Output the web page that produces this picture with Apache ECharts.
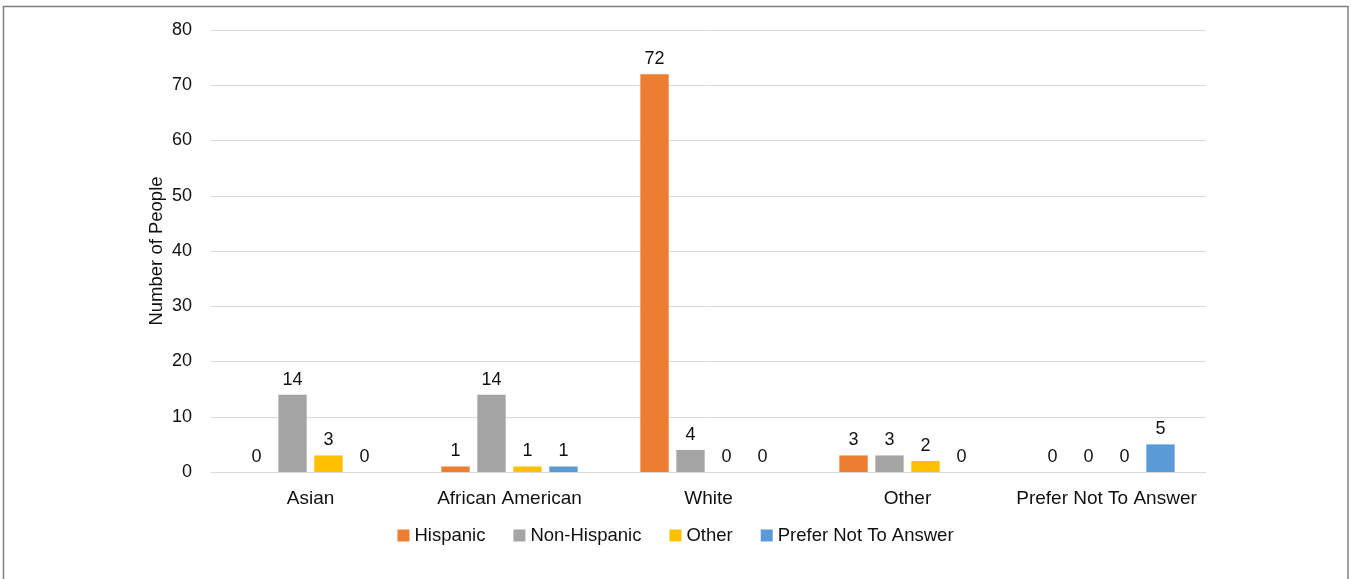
<!DOCTYPE html>
<html>
<head>
<meta charset="utf-8">
<script src="https://cdn.jsdelivr.net/npm/echarts@6/dist/echarts.min.js"></script>
<style>
html,body{margin:0;padding:0;background:#fff;}
#chart{width:1351px;height:579px;}
</style>
</head>
<body>
<div id="chart"></div>
<script>
const categories = ['Asian', 'African American', 'White', 'Other', 'Prefer Not To Answer'];
const seriesNames = ['Hispanic', 'Non-Hispanic', 'Other', 'Prefer Not To Answer'];
const hispanic = [0, 1, 72, 3, 0];
const nonHispanic = [14, 14, 4, 3, 0];
const otherEth = [3, 1, 0, 2, 0];
const preferNot = [0, 1, 0, 0, 5];
const yTicks = [0, 10, 20, 30, 40, 50, 60, 70, 80];
const colors = ['#ED7D31', '#A5A5A5', '#FFC000', '#5B9BD5'];

const FONT = '"Liberation Sans", Arial, sans-serif';
const TXT = '#111';
const values = [hispanic, nonHispanic, otherEth, preferNot];

const chart = echarts.init(document.getElementById('chart'));
chart.setOption({
  animation: false,
  textStyle: { fontFamily: FONT },
  graphic: [{
    type: 'rect',
    shape: { x: 3.5, y: 6.5, width: 1344.5, height: 620 },
    style: { fill: 'none', stroke: '#7f7f7f', lineWidth: 1.5 },
    silent: true
  }],
  grid: { left: 211, right: 145, top: 30, bottom: 107 },
  legend: {
    data: seriesNames,
    bottom: 29,
    left: 'center',
    itemWidth: 12,
    itemHeight: 12,
    itemGap: 28,
    icon: 'rect',
    textStyle: { fontFamily: FONT, fontSize: 18.5, color: TXT }
  },
  xAxis: {
    type: 'category',
    data: categories,
    axisLine: { show: true, lineStyle: { color: '#d9d9d9', width: 1 } },
    axisTick: { show: false },
    axisLabel: { interval: 0, fontFamily: FONT, fontSize: 19, color: TXT, margin: 17 }
  },
  yAxis: {
    type: 'value',
    min: yTicks[0],
    max: yTicks[yTicks.length - 1],
    interval: 10,
    name: 'Number of People',
    nameLocation: 'middle',
    nameGap: 45,
    nameMoveOverlap: false,
    nameRotate: 90,
    nameTextStyle: { fontFamily: FONT, fontSize: 18.5, color: TXT },
    axisLine: { show: false },
    axisTick: { show: false },
    splitLine: { lineStyle: { color: '#d9d9d9', width: 1 } },
    axisLabel: { fontFamily: FONT, fontSize: 18, color: TXT, margin: 19 }
  },
  series: seriesNames.map((n, i) => ({
    name: n,
    type: 'bar',
    data: values[i],
    barGap: '27%',
    barCategoryGap: '31.5%',
    itemStyle: { color: colors[i] },
    label: {
      show: true,
      position: 'top',
      distance: 6,
      fontFamily: FONT,
      fontSize: 18,
      color: TXT
    }
  }))
});
</script>
</body>
</html>
